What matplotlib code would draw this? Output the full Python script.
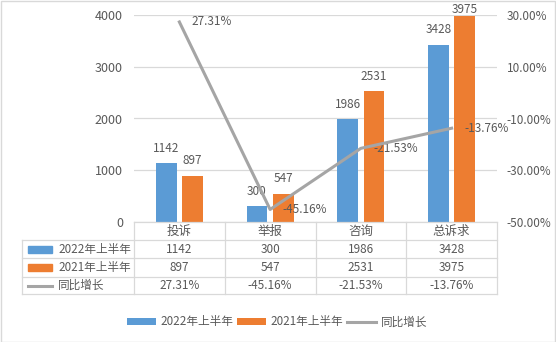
import matplotlib

matplotlib.use("Agg")
import matplotlib.pyplot as plt
from matplotlib.lines import Line2D
from matplotlib.patches import Patch, Rectangle

plt.rcParams["font.family"] = ["Noto Sans CJK SC", "DejaVu Sans"]

CATEGORIES = ["投诉", "举报", "咨询", "总诉求"]
SERIES_NAMES = ["2022年上半年", "2021年上半年", "同比增长"]
Y2022 = [1142, 300, 1986, 3428]
Y2021 = [897, 547, 2531, 3975]
GROWTH = [27.31, -45.16, -21.53, -13.76]
LEFT_TICKS = [0, 1000, 2000, 3000, 4000]
RIGHT_TICKS = [-50, -30, -10, 10, 30]

BLUE = "#5B9BD5"
ORANGE = "#ED7D31"
GREY = "#A5A5A5"
TXT = "#595959"
GRID = "#D9D9D9"

W, H = 556, 342


def fx(px):
    return px / W


def fy(py):
    return 1 - py / H


fig = plt.figure(figsize=(W / 100, H / 100), dpi=100)

# plot area in pixel terms
L, R, T, B = 134, 497, 15, 222
ax = fig.add_axes([fx(L), fy(B), fx(R - L), (B - T) / H])
x = list(range(len(CATEGORIES)))
bw = 0.23
off = 0.145
b1 = ax.bar([i - off for i in x], Y2022, width=bw, color=BLUE, zorder=3)
b2 = ax.bar([i + off for i in x], Y2021, width=bw, color=ORANGE, zorder=3)
ax.set_xlim(-0.5, len(CATEGORIES) - 0.5)
ax.set_ylim(0, 4000)
ax.set_yticks(LEFT_TICKS)
ax.set_yticklabels([str(v) for v in LEFT_TICKS], fontsize=9, color=TXT)
ax.set_xticks([])
ax.grid(axis="y", color=GRID, linewidth=0.9, zorder=0)
ax.tick_params(axis="y", length=0, pad=8)
for s in ax.spines.values():
    s.set_visible(False)

for bars, vals in ((b1, Y2022), (b2, Y2021)):
    for rect, v in zip(bars, vals):
        pad = 6 if v < 3800 else 0.5
        ax.annotate(str(v), (rect.get_x() + rect.get_width() / 2, v),
                    xytext=(0, pad), textcoords="offset points",
                    ha="center", va="bottom", fontsize=8.5, color=TXT,
                    annotation_clip=False)

ax2 = ax.twinx()
ax2.plot(x, GROWTH, color=GREY, linewidth=2.2, zorder=4)
ax2.set_ylim(-50, 30)
ax2.set_yticks(RIGHT_TICKS)
ax2.set_yticklabels([f"{v:.2f}%" for v in RIGHT_TICKS], fontsize=8.5, color=TXT)
ax2.tick_params(axis="y", length=0, pad=7)
for s in ax2.spines.values():
    s.set_visible(False)
for i, g in zip(x, GROWTH):
    ax2.annotate(f"{g:.2f}%", (i, g), xytext=(9, 0), textcoords="offset points",
                 ha="left", va="center", fontsize=8.5, color=TXT,
                 annotation_clip=False)

# ---- data table under the plot -----------------------------------------
col_x = [L + (R - L) * k / len(CATEGORIES) for k in range(len(CATEGORIES) + 1)]
row_y = [222, 240, 258.3, 276.7, 294.3]
TL = 22
lk = dict(color=GRID, linewidth=0.9, transform=fig.transFigure)
fig.add_artist(Line2D([fx(L), fx(R)], [fy(row_y[0])] * 2, **lk))
for yy in row_y[1:]:
    fig.add_artist(Line2D([fx(TL), fx(R)], [fy(yy)] * 2, **lk))
for cx in col_x:
    fig.add_artist(Line2D([fx(cx)] * 2, [fy(row_y[0]), fy(row_y[-1])], **lk))
fig.add_artist(Line2D([fx(TL)] * 2, [fy(row_y[1]), fy(row_y[-1])], **lk))

rows = [
    [str(v) for v in Y2022],
    [str(v) for v in Y2021],
    [f"{g:.2f}%" for g in GROWTH],
]
for k, cat in enumerate(CATEGORIES):
    cx = (col_x[k] + col_x[k + 1]) / 2
    fig.text(fx(cx), fy((row_y[0] + row_y[1]) / 2), cat, ha="center", va="center",
             fontsize=9, color=TXT)
    for r, vals in enumerate(rows):
        fig.text(fx(cx), fy((row_y[r + 1] + row_y[r + 2]) / 2), vals[k],
                 ha="center", va="center", fontsize=8.5, color=TXT)

keys = [BLUE, ORANGE, GREY]
for r, name in enumerate(SERIES_NAMES):
    cy = (row_y[r + 1] + row_y[r + 2]) / 2
    if r < 2:
        fig.add_artist(Rectangle((fx(28), fy(cy + 3.5)), fx(24), 7 / H,
                                 color=keys[r], transform=fig.transFigure))
    else:
        fig.add_artist(Line2D([fx(28), fx(52)], [fy(cy)] * 2, color=GREY,
                              linewidth=2.2, transform=fig.transFigure))
    fig.text(fx(58), fy(cy), name, ha="left", va="center", fontsize=8.4, color=TXT)

# ---- legend ------------------------------------------------------------
handles = [
    Patch(facecolor=BLUE, label=SERIES_NAMES[0]),
    Patch(facecolor=ORANGE, label=SERIES_NAMES[1]),
    Line2D([0], [0], color=GREY, linewidth=2.2, label=SERIES_NAMES[2]),
]
fig.legend(handles=handles, loc="center", bbox_to_anchor=(fx(277), fy(322)),
           ncol=3, frameon=False, fontsize=8.4, handlelength=2.5, handleheight=0.6,
           handletextpad=0.4, columnspacing=0.3, labelcolor=TXT)

# chart area border
fig.add_artist(Rectangle((0.5 / W, 0.5 / H), 1 - 1.5 / W, 1 - 1.5 / H, fill=False,
                         edgecolor=GRID, linewidth=1, transform=fig.transFigure))

fig.savefig("out.png", dpi=100, facecolor="white")
